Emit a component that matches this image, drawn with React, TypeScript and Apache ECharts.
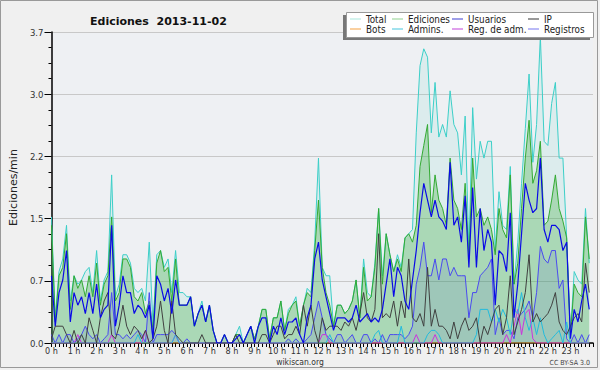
import React, { useEffect, useRef } from "react";
import * as echarts from "echarts";

// 10-minute bins, 144 per day; values in edits per minute
const total = [
  1.5, 0.3, 0.85, 1.0, 1.4, 0.5,
  0.8, 0.7, 0.75, 0.85, 0.9, 0.6,
  1.1, 0.5, 0.75, 0.85, 2.0, 0.55,
  0.7, 1.05, 1.05, 0.95, 0.65, 0.6,
  0.65, 0.5, 1.2, 0.2, 1.05, 1.1,
  0.9, 1.0, 0.6, 1.1, 0.6, 0.6,
  0.55, 0.55, 0.2, 0.35, 0.5, 0.25,
  0.45, 0.15, 0, 0, 0.1, 0,
  0, 0.1, 0.2, 0, 0.1, 0.2,
  0.05, 0.2, 0.4, 0.4, 0.05, 0.3,
  0.3, 0.5, 0.15, 0.4, 0.45, 0.55,
  0.2, 0.45, 0.65, 0.6, 1.2, 2.2,
  0.9, 0.8, 0.8, 0.2, 0.45, 0.45,
  0.35, 0.4, 0.5, 0.75, 0.3, 1.0,
  0.6, 0.55, 0.95, 1.6, 0.8, 1.3,
  1.05, 0.85, 1.05, 0.9, 1.25, 1.3,
  1.35, 2.5, 3.3, 3.5, 3.4, 2.5,
  3.1, 2.45, 2.6, 2.45, 3.0, 2.6,
  2.5, 2.0, 2.7, 1.1, 2.8, 1.95,
  2.4, 2.2, 2.4, 2.4, 1.1, 1.8,
  1.4, 1.35, 2.1, 0.7, 1.2, 1.9,
  2.55, 3.2, 2.15, 2.6, 3.65, 2.4,
  2.35, 2.85, 3.1, 2.2, 2.2, 1.25,
  0.1, 0.85, 0.75, 0.7, 1.6, 0.95,
];

const ediciones = [
  1.4, 0.25, 0.8, 0.9, 1.3, 0.4,
  0.8, 0.65, 0.75, 0.55, 0.8, 0.55,
  0.95, 0.45, 0.7, 0.8, 1.5, 0.5,
  0.6, 1.0, 1.0, 0.9, 0.55, 0.5,
  0.6, 0.35, 0.5, 0.15, 0.95, 1.1,
  0.85, 0.9, 0.5, 1.0, 0.45, 0.45,
  0.45, 0.55, 0.2, 0.35, 0.45, 0.25,
  0.45, 0.15, 0, 0, 0.1, 0,
  0, 0.1, 0.1, 0, 0.1, 0.2,
  0.05, 0.2, 0.4, 0.4, 0.05, 0.3,
  0.3, 0.5, 0.15, 0.35, 0.45, 0.5,
  0.2, 0.45, 0.6, 0.55, 1.1, 1.7,
  0.9, 0.6, 0.45, 0.2, 0.45, 0.45,
  0.35, 0.4, 0.5, 0.75, 0.3, 0.9,
  0.5, 0.55, 0.9, 1.6, 0.7, 1.3,
  1.05, 0.85, 1.0, 0.85, 1.25, 1.3,
  1.2, 1.4, 2.1, 2.35, 2.6, 1.55,
  2.0, 1.7, 1.6, 1.4, 2.2, 1.7,
  1.6, 1.35, 1.9, 1.0, 2.2, 1.5,
  1.6, 1.4, 1.5, 1.35, 1.05, 1.6,
  1.35, 1.25, 2.0, 0.7, 0.95, 1.6,
  2.2, 2.65, 1.9, 2.05, 2.4, 1.4,
  1.45, 1.7, 2.0, 1.6, 1.45, 1.25,
  0.1, 0.7, 0.6, 0.55, 1.5, 1.0,
];

const usuarios = [
  0.8, 0.2, 0.6, 0.75, 1.1, 0.25,
  0.6, 0.45, 0.55, 0.35, 0.6, 0.35,
  0.7, 0.3, 0.4, 0.45, 1.4, 0.2,
  0.45, 0.8, 0.6, 0.6, 0.35, 0.45,
  0.4, 0.3, 0.45, 0.05, 0.8, 0.7,
  0.5, 0.65, 0.35, 0.75, 0.45, 0.45,
  0.45, 0.55, 0.2, 0.35, 0.45, 0.25,
  0.45, 0.15, 0, 0, 0.1, 0,
  0, 0.05, 0.1, 0, 0.1, 0.2,
  0, 0.2, 0.3, 0.3, 0, 0.2,
  0.1, 0.3, 0.1, 0.25, 0.25, 0.3,
  0.1, 0.0, 0.3, 0.45, 1.0, 1.2,
  0.75, 0.55, 0.35, 0.15, 0.3, 0.3,
  0.3, 0.25, 0.3, 0.45, 0.25, 0.3,
  0.35, 0.25, 0.3, 0.25, 0.4, 0.7,
  1.0, 0.55, 0.9, 0.8, 0.5, 0.4,
  0.75, 1.1, 1.55, 1.9, 1.7, 1.5,
  1.7, 1.5, 1.45, 1.35, 2.15, 1.4,
  1.5, 1.2, 1.75, 0.9, 1.85, 0.9,
  1.6, 1.1, 1.35, 1.2, 0.45, 1.1,
  1.05, 0.85, 1.55, 0.3, 0.7, 1.3,
  1.9, 1.7, 1.55, 1.6, 2.2, 1.35,
  1.2, 1.4, 1.4, 1.35, 1.1, 1.2,
  0.05, 0.4, 0.25, 0.5, 0.7, 0.4,
];

const ip = [
  0.05, 0.2, 0.2, 0.2, 0.1, 0.0,
  0.15, 0.0, 0.1, 0.0, 0.3, 0.15,
  0.0, 0.3, 0.5, 0.6, 0.1, 0.05,
  0.2, 0.45, 0.2, 0.1, 0.2, 0.15,
  0.05, 0.15, 0.0, 0.05, 0.2, 0.5,
  0.15, 0.0, 0.5, 0.1, 0.05, 0.0,
  0, 0, 0, 0, 0.1, 0,
  0, 0, 0, 0, 0, 0,
  0, 0.1, 0, 0, 0, 0,
  0, 0, 0.1, 0.1, 0, 0.1,
  0.2, 0.2, 0.05, 0.1, 0.1, 0.2,
  0.1, 0.45, 0.2, 0.45, 0.15, 0.0,
  0.3, 0.15, 0.2, 0.2, 0.2, 0.15,
  0.25, 0.2, 0.3, 0.15, 0.35, 0.6,
  0.3, 0.25, 0.4, 1.3, 0.3, 0.35,
  0.3, 0.5, 0.2, 0.5, 0.3, 1.0,
  0.3, 0.25, 0.35, 0.2, 0.9, 0.2,
  0.4, 0.2, 0.2, 0.15, 0.05, 0.25,
  0.05, 0.2, 0.3, 0.15, 0.2, 0.3,
  0.0, 0.2, 0.1, 0.25, 0.4, 0.45,
  0.1, 0.3, 0.8, 0.1, 0.25, 0.4,
  0.6, 1.05, 0.25, 0.35, 0.25, 0.3,
  0.35, 0.45, 0.6, 0.25, 0.15, 0.1,
  0.2, 0.3, 0.35, 0.25, 0.95, 0.6,
];

const registros = [
  0.1, 0.0, 0.1, 0.0, 0.1, 0.1,
  0.0, 0.05, 0.1, 0.2, 0.1, 0.05,
  0.1, 0.0, 0.05, 0.1, 0.6, 0.1,
  0.1, 0.05, 0.1, 0.05, 0.1, 0.15,
  0.1, 0.0, 0.6, 0.0, 0.1, 0.1,
  0.1, 0.1, 0.15, 0.1, 0.0, 0.0,
  0.05, 0, 0, 0, 0, 0,
  0, 0, 0, 0, 0, 0,
  0, 0, 0, 0, 0, 0,
  0, 0, 0, 0, 0, 0,
  0, 0, 0, 0.05, 0, 0.05,
  0, 0, 0.05, 0.1, 0.3, 0.5,
  0.3, 0.1, 0.05, 0, 0.1, 0.1,
  0, 0.05, 0.1, 0, 0, 0.1,
  0.1, 0, 0.05, 0, 0.1, 0,
  0.1, 0.1, 0.1, 0.1, 0.05, 0.1,
  0.2, 0.7, 0.9, 1.2, 0.8, 0.8,
  1.0, 0.75, 1.0, 1.0, 0.8, 0.9,
  0.8, 0.8, 0.8, 0.3, 0.6, 0.6,
  0.8, 0.85, 0.9, 1.0, 0.1, 0.3,
  0.1, 0.15, 0.15, 0.05, 0.3, 0.35,
  0.4, 0.5, 0.3, 0.6, 1.15, 1.0,
  0.95, 1.1, 1.1, 0.65, 0.75, 0.05,
  0, 0.1, 0, 0.1, 0, 0.1,
];

const admins = [
  0, 0, 0, 0, 0, 0,
  0, 0, 0, 0, 0, 0,
  0, 0, 0, 0, 0, 0,
  0, 0, 0, 0, 0, 0.1,
  0, 0, 0, 0, 0, 0,
  0, 0, 0, 0.1, 0, 0,
  0, 0, 0, 0, 0, 0,
  0, 0, 0, 0, 0, 0,
  0, 0, 0, 0, 0, 0,
  0, 0, 0, 0, 0, 0,
  0, 0, 0, 0, 0, 0,
  0, 0, 0, 0, 0, 0,
  0, 0, 0.1, 0, 0, 0,
  0, 0, 0, 0, 0, 0,
  0, 0, 0.1, 0.15, 0, 0,
  0, 0, 0, 0.2, 0, 0,
  0, 0, 0, 0, 0.1, 0.15,
  0.15, 0.1, 0, 0, 0, 0,
  0, 0, 0, 0, 0, 0.1,
  0.4, 0.4, 0.4, 0.25, 0.4, 0.25,
  0.4, 0.3, 0.1, 0.4, 0.35, 0.6,
  0.3, 0.15, 0.3, 0.1, 0.3, 0.1,
  0, 0.05, 0.1, 0.15, 0, 0.25,
  0, 0, 0, 0, 0, 0,
];

const regAdm = [
  0, 0, 0, 0, 0, 0,
  0, 0.1, 0, 0, 0, 0,
  0, 0, 0, 0, 0.1, 0,
  0, 0, 0, 0, 0, 0,
  0, 0.15, 0, 0, 0, 0,
  0, 0, 0, 0.1, 0, 0,
  0, 0, 0, 0, 0, 0,
  0, 0, 0, 0, 0, 0,
  0, 0, 0, 0, 0, 0,
  0, 0, 0, 0, 0, 0,
  0, 0, 0, 0, 0, 0,
  0, 0, 0, 0, 0, 0,
  0.1, 0.1, 0, 0, 0, 0,
  0, 0, 0, 0, 0, 0,
  0, 0, 0, 0, 0, 0,
  0, 0, 0, 0, 0, 0,
  0, 0.1, 0, 0, 0, 0,
  0.1, 0, 0, 0, 0, 0,
  0, 0, 0, 0, 0, 0,
  0, 0, 0, 0, 0, 0,
  0, 0.1, 0, 0.2, 0.4, 0.1,
  0.35, 0.4, 0.05, 0, 0, 0,
  0, 0, 0, 0, 0, 0,
  0, 0, 0, 0, 0, 0,
];

const bots = new Array(144).fill(0);

const yTicks = [0, 0.74, 1.48, 2.22, 2.96, 3.7];
const legendColumns = [
  ["Total", "Bots"],
  ["Ediciones", "Admins."],
  ["Usuarios", "Reg. de adm."],
  ["IP", "Registros"],
];

export default function App() {
  const ref = useRef<HTMLDivElement>(null);
  useEffect(() => {
    document.body.style.margin = "0";
    const chart = echarts.init(ref.current!, null, { renderer: "svg" });
    const FONT = "'DejaVu Sans Condensed', 'DejaVu Sans'";
    const pairs = (arr: number[]) => arr.map((v, i) => [i, v]);
    const mk = (name: string, data: number[], color: string, extra: any = {}) => ({
      name,
      type: "line",
      data: pairs(data),
      symbol: "none",
      showSymbol: false,
      silent: true,
      lineStyle: { color, width: 1 },
      itemStyle: { color },
      ...extra,
    });
    const legendColor: Record<string, string> = {
      Total: "#a8e6dc",
      Ediciones: "#8fd08f",
      Usuarios: "#3c3cd0",
      IP: "#333333",
      Bots: "#f5a040",
      "Admins.": "#44c4dc",
      "Reg. de adm.": "#c040d8",
      Registros: "#7474ee",
    };
    const legendLeft = [350, 392, 452, 528];
    const legends = legendColumns.map((col, c) => ({
      orient: "vertical",
      left: legendLeft[c],
      top: 14,
      padding: 0,
      itemGap: 0,
      itemWidth: 11,
      itemHeight: 1,
      icon: "rect",
      z: 60,
      selectedMode: false,
      textStyle: { fontFamily: FONT, fontSize: 9.8, color: "#222", lineHeight: 10 },
      data: col.map((n) => ({ name: n, itemStyle: { color: legendColor[n] } })),
    }));

    chart.setOption({
      animation: false,
      backgroundColor: "#f0f0f0",
      textStyle: { fontFamily: FONT },
      title: {
        text: "Ediciones  2013-11-02",
        left: 85,
        top: 11,
        textStyle: { fontFamily: "'DejaVu Sans'", fontSize: 11, fontWeight: "bold", color: "#111" },
      },
      legend: legends,
      grid: {
        left: 47,
        right: 7,
        top: 32,
        bottom: 27,
        show: true,
        backgroundColor: "#eef0f3",
        borderWidth: 0,
      },
      xAxis: {
        type: "value",
        min: 0,
        max: 144,
        interval: 6,
        axisLine: { lineStyle: { color: "#000", width: 1.5 } },
        axisTick: { length: 4, lineStyle: { color: "#000" } },
        minorTick: { show: true, splitNumber: 6, length: 4, lineStyle: { color: "#000" } },
        splitLine: { show: false },
        axisLabel: {
          fontFamily: FONT,
          fontSize: 9,
          color: "#333",
          margin: 3,
          formatter: (v: number) => (v < 144 ? `${v / 6} h` : ""),
        },
      },
      yAxis: {
        type: "value",
        min: yTicks[0],
        max: yTicks[yTicks.length - 1],
        interval: yTicks[1],
        name: "Ediciones/min",
        nameLocation: "middle",
        nameGap: 31,
        nameTextStyle: { fontFamily: "'DejaVu Sans'", fontSize: 11, color: "#222" },
        axisLine: { show: true, lineStyle: { color: "#000", width: 1.5 } },
        axisTick: { show: true, length: 7, lineStyle: { color: "#000" } },
        minorTick: { show: true, splitNumber: 4, length: 3, lineStyle: { color: "#000" } },
        splitLine: { show: true, lineStyle: { color: "#c8c8c8", width: 1 } },
        axisLabel: {
          fontFamily: FONT,
          fontSize: 9.5,
          color: "#333",
          margin: 8,
          formatter: (v: number) => v.toFixed(1),
        },
      },
      series: [
        mk("Total", total, "#3ccfc8", { areaStyle: { color: "rgba(80,210,190,0.16)" }, z: 1 }),
        mk("Ediciones", ediciones, "#33aa33", { areaStyle: { color: "rgba(51,170,51,0.42)" }, z: 2 }),
        mk("Registros", registros, "#4a4af0", { areaStyle: { color: "rgba(60,60,220,0.15)" }, z: 3 }),
        mk("Bots", bots, "#ff9933", { z: 3 }),
        mk("Reg. de adm.", regAdm, "#cc33dd", { z: 4 }),
        mk("Admins.", admins, "#22bbdd", { z: 4 }),
        mk("IP", ip, "#404040", { z: 5 }),
        mk("Usuarios", usuarios, "#0a0ae6", { z: 6, lineStyle: { color: "#0a0ae6", width: 1.2 } }),
      ],
      graphic: [
        { type: "rect", z: 50, shape: { x: 343, y: 15, width: 247, height: 25 }, style: { fill: "#777" } },
        { type: "rect", z: 51, shape: { x: 346.5, y: 12.5, width: 247, height: 25 }, style: { fill: "#fff", stroke: "#999", lineWidth: 1 } },
        { type: "rect", z: 52, shape: { x: 0.5, y: 0.5, width: 597, height: 367 }, style: { fill: "none", stroke: "#999", lineWidth: 1 } },
        { type: "text", z: 52, left: "center", top: 357, style: { text: "wikiscan.org", font: `8.5px ${FONT}`, fill: "#333" } },
        { type: "text", z: 52, right: 10, top: 359, style: { text: "CC BY-SA 3.0", font: `7px ${FONT}`, fill: "#444" } },
      ],
    });
    return () => chart.dispose();
  }, []);
  return <div ref={ref} style={{ width: 600, height: 370 }} />;
}
